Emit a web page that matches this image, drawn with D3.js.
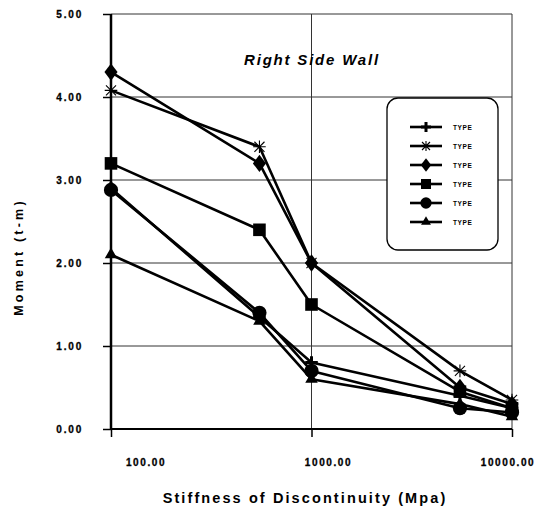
<!DOCTYPE html>
<html>
<head>
<meta charset="utf-8">
<script src="https://cdn.jsdelivr.net/npm/d3@7"></script>
<style>
  body { margin: 0; background: #fff; }
  text { font-family: "Liberation Sans", Arial, sans-serif; font-weight: bold; fill: #000; }
</style>
</head>
<body>
<script>
// Data
var stiffness = [100, 550, 1000, 5500, 10000];
var xTicks = [100, 1000, 10000];
var xTickLabels = ["100.00", "1000.00", "10000.00"];
var yTicks = [0, 1, 2, 3, 4, 5];
var yTickLabels = ["0.00", "1.00", "2.00", "3.00", "4.00", "5.00"];
var seriesNames = ["TYPE", "TYPE", "TYPE", "TYPE", "TYPE", "TYPE"];
var seriesSymbols = ["plus", "asterisk", "diamond", "square", "circle", "triangle"];
var plusVals     = [2.90, 1.35, 0.80, 0.40, 0.25];
var asteriskVals = [4.08, 3.40, 2.00, 0.70, 0.35];
var diamondVals  = [4.30, 3.20, 2.00, 0.50, 0.30];
var squareVals   = [3.20, 2.40, 1.50, 0.45, 0.25];
var circleVals   = [2.88, 1.40, 0.70, 0.25, 0.20];
var triangleVals = [2.10, 1.30, 0.60, 0.30, 0.15];
var allVals = [plusVals, asteriskVals, diamondVals, squareVals, circleVals, triangleVals];

// Layout
var margin = {top: 14, right: 36, bottom: 82, left: 111},
    width = 548 - margin.left - margin.right,
    height = 511 - margin.top - margin.bottom;

var svg = d3.select("body").append("svg")
    .attr("width", 548)
    .attr("height", 511);

var g = svg.append("g")
    .attr("transform", "translate(" + margin.left + "," + margin.top + ")");

var x = d3.scaleLog().domain([100, 10000]).range([0, width]);
var y = d3.scaleLinear().domain([0, 5]).range([height, 0]);

// gridlines
g.selectAll(".hgrid")
    .data(yTicks.slice(1))
  .enter().append("line")
    .attr("x1", 0).attr("x2", width)
    .attr("y1", function(d) { return y(d); })
    .attr("y2", function(d) { return y(d); })
    .attr("stroke", "#333").attr("stroke-width", 1);

g.selectAll(".vgrid")
    .data(xTicks.slice(1))
  .enter().append("line")
    .attr("x1", function(d) { return x(d); })
    .attr("x2", function(d) { return x(d); })
    .attr("y1", 0).attr("y2", height)
    .attr("stroke", "#333").attr("stroke-width", 1);

// axes
var yAxis = g.append("g")
    .call(d3.axisLeft(y).tickValues(yTicks).tickSize(8).tickFormat(""));
yAxis.select(".domain").attr("stroke-width", 2.5).attr("d", "M0," + height + "V0");
yAxis.selectAll(".tick line").attr("stroke-width", 1.5);

var xAxis = g.append("g")
    .attr("transform", "translate(0," + height + ")")
    .call(d3.axisBottom(x).tickValues(xTicks).tickSize(8).tickFormat(""));
xAxis.select(".domain").attr("stroke-width", 2).attr("d", "M0,0H" + width);
xAxis.selectAll(".tick line").attr("stroke-width", 1.5);

// tick labels
g.selectAll(".ylab")
    .data(yTicks)
  .enter().append("text")
    .attr("x", -28)
    .attr("y", function(d) { return y(d) + 3.5; })
    .attr("text-anchor", "end")
    .style("font-size", "10px")
    .style("letter-spacing", "1.8px")
    .style("stroke", "#000").style("stroke-width", 0.3)
    .text(function(d, i) { return yTickLabels[i]; });

var xLabelShift = [35, 17, -4];
g.selectAll(".xlab")
    .data(xTicks)
  .enter().append("text")
    .attr("x", function(d, i) { return x(d) + xLabelShift[i]; })
    .attr("y", height + 37)
    .attr("text-anchor", "middle")
    .style("font-size", "10px")
    .style("letter-spacing", "1.6px")
    .style("stroke", "#000").style("stroke-width", 0.3)
    .text(function(d, i) { return xTickLabels[i]; });

// axis titles
svg.append("text")
    .attr("x", 305)
    .attr("y", 503)
    .attr("text-anchor", "middle")
    .style("font-size", "14.5px")
    .style("letter-spacing", "2.1px")
    .text("Stiffness of  Discontinuity (Mpa)");

svg.append("text")
    .attr("transform", "translate(23,257) rotate(-90)")
    .attr("text-anchor", "middle")
    .style("font-size", "12.5px")
    .style("letter-spacing", "3.2px")
    .text("Moment (t-m)");

// chart title
g.append("text")
    .attr("x", 201)
    .attr("y", 51)
    .attr("text-anchor", "middle")
    .style("font-size", "15px")
    .style("font-style", "italic")
    .style("letter-spacing", "1.8px")
    .text("Right Side Wall");

// marker shapes
function drawMarker(sel, type, s) {
  if (type === "plus") {
    sel.append("path").attr("d", "M" + (-s) + ",0H" + s + "M0," + (-s) + "V" + s)
      .attr("stroke", "#000").attr("stroke-width", 3);
  } else if (type === "asterisk") {
    var a = s * 0.8;
    sel.append("path")
      .attr("d", "M" + (-s) + ",0H" + s + "M0," + (-s) + "V" + s +
                 "M" + (-a) + "," + (-a) + "L" + a + "," + a +
                 "M" + (-a) + "," + a + "L" + a + "," + (-a))
      .attr("stroke", "#000").attr("stroke-width", 1.1);
  } else if (type === "diamond") {
    sel.append("path").attr("d", d3.symbol(d3.symbolDiamond, s * s * 2.4)())
      .attr("transform", "scale(1.25,0.95)").attr("fill", "#000");
  } else if (type === "square") {
    sel.append("path").attr("d", d3.symbol(d3.symbolSquare, s * s * 4)()).attr("fill", "#000");
  } else if (type === "circle") {
    sel.append("path").attr("d", d3.symbol(d3.symbolCircle, s * s * 4)()).attr("fill", "#000");
  } else if (type === "triangle") {
    sel.append("path").attr("d", d3.symbol(d3.symbolTriangle, s * s * 1.7)()).attr("fill", "#000");
  }
}

var line = d3.line()
    .x(function(d, i) { return x(stiffness[i]); })
    .y(function(d) { return y(d); });

// series lines
allVals.forEach(function(vals) {
  g.append("path")
      .datum(vals)
      .attr("d", line)
      .attr("fill", "none")
      .attr("stroke", "#000")
      .attr("stroke-width", 2.6)
      .attr("stroke-linejoin", "round");
});

// series markers
allVals.forEach(function(vals, k) {
  vals.forEach(function(v, i) {
    var m = g.append("g")
        .attr("transform", "translate(" + x(stiffness[i]) + "," + y(v) + ")");
    drawMarker(m, seriesSymbols[k], 6.3);
  });
});

// legend
var legend = svg.append("g").attr("transform", "translate(387,98)");
legend.append("rect")
    .attr("width", 111).attr("height", 152)
    .attr("rx", 11).attr("ry", 11)
    .attr("fill", "#fff").attr("stroke", "#000").attr("stroke-width", 1.3);

seriesNames.forEach(function(name, k) {
  var row = legend.append("g").attr("transform", "translate(0," + (29 + k * 19) + ")");
  row.append("line").attr("x1", 23).attr("x2", 55)
    .attr("stroke", "#000").attr("stroke-width", 2.6);
  var m = row.append("g").attr("transform", "translate(39,0)");
  drawMarker(m, seriesSymbols[k], 5);
  row.append("text").attr("x", 66).attr("y", 3)
    .style("font-size", "6.5px").style("letter-spacing", "0.6px")
    .text(name);
});
</script>
</body>
</html>
